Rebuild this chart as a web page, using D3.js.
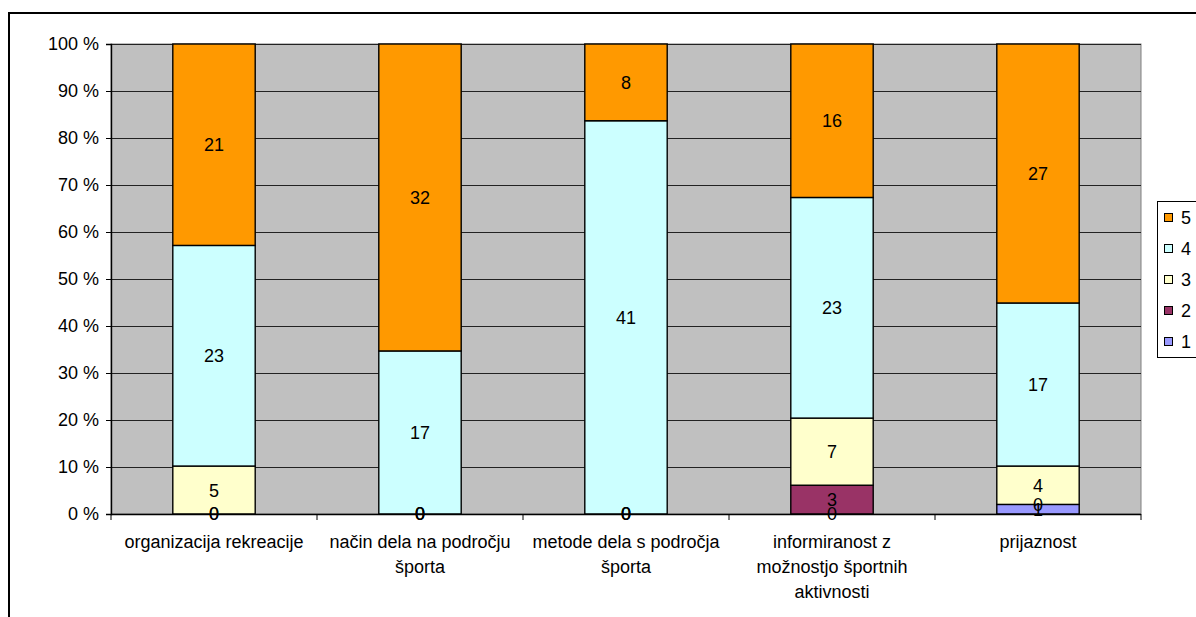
<!DOCTYPE html>
<html>
<head>
<meta charset="utf-8">
<script src="https://cdn.jsdelivr.net/npm/d3@7"></script>
<style>
  body { margin: 0; background: #fff; }
  svg { display: block; font-family: "Liberation Sans", Arial, sans-serif; }
</style>
</head>
<body>
<svg id="chart" width="1196" height="617"></svg>
<script>
// Survey categories (line breaks as shown under the axis)
const categories = [
  "organizacija rekreacije",
  "način dela na področju\nšporta",
  "metode dela s področja\nšporta",
  "informiranost z\nmožnostjo športnih\naktivnosti",
  "prijaznost"
];
// Ratings 1..5, counts per category
const series1 = [0, 0, 0, 0, 1];
const series2 = [0, 0, 0, 3, 0];
const series3 = [5, 0, 0, 7, 4];
const series4 = [23, 17, 41, 23, 17];
const series5 = [21, 32, 8, 16, 27];
const seriesNames = ["1", "2", "3", "4", "5"];
const seriesColors = ["#9999FF", "#993366", "#FFFFCC", "#CCFFFF", "#FF9900"];
const yTicks = [0, 10, 20, 30, 40, 50, 60, 70, 80, 90, 100];

const FONT = 18;
const allSeries = [series1, series2, series3, series4, series5];
const rows = categories.map((c, i) => {
  const r = { cat: c };
  seriesNames.forEach((s, k) => r[s] = allSeries[k][i]);
  return r;
});

const svg = d3.select("#chart");
const plot = { left: 111, right: 1141, top: 44, bottom: 514 };

// outer chart frame (runs past the page edge on the right and bottom)
svg.append("rect").attr("x", 9).attr("y", 13).attr("width", 1200).attr("height", 620)
  .attr("fill", "none").attr("stroke", "#000").attr("stroke-width", 2);

const x = d3.scaleBand().domain(categories).range([plot.left, plot.right]).paddingInner(0.6).paddingOuter(0.3);
const xOuter = d3.scaleBand().domain(categories).range([plot.left, plot.right]);
const y = d3.scaleLinear().domain([0, 100]).range([plot.bottom, plot.top]);

// plot background
svg.append("rect").attr("x", plot.left).attr("y", plot.top)
  .attr("width", plot.right - plot.left).attr("height", plot.bottom - plot.top)
  .attr("fill", "#C0C0C0").attr("stroke", "#808080").attr("stroke-width", 1);

// gridlines
svg.append("g").selectAll("line").data(yTicks.slice(1)).join("line")
  .attr("x1", plot.left).attr("x2", plot.right)
  .attr("y1", d => Math.round(y(d)) + 0.5).attr("y2", d => Math.round(y(d)) + 0.5)
  .attr("stroke", "#222").attr("stroke-width", 1);

// stacked percentages
const stack = d3.stack().keys(seriesNames).offset(d3.stackOffsetExpand);
const layers = stack(rows);

const gBars = svg.append("g");
layers.forEach((layer, k) => {
  gBars.append("g").selectAll("rect").data(layer).join("rect")
    .attr("x", d => x(d.data.cat))
    .attr("width", x.bandwidth())
    .attr("y", d => y(d[1] * 100))
    .attr("height", d => y(d[0] * 100) - y(d[1] * 100))
    .attr("fill", seriesColors[k])
    .attr("stroke", "#000").attr("stroke-width", 1.4)
    .attr("display", d => (d[1] - d[0]) > 0 ? null : "none");
});

// value labels
const gLabels = svg.append("g").attr("font-size", FONT).attr("fill", "#000").attr("text-anchor", "middle");
layers.forEach((layer, k) => {
  gLabels.append("g").selectAll("text").data(layer).join("text")
    .attr("x", d => x(d.data.cat) + x.bandwidth() / 2)
    .attr("y", d => y((d[0] + d[1]) / 2 * 100))
    .attr("dy", "0.36em")
    .text(d => d.data[layer.key]);
});

// y axis
const yAxis = svg.append("g").attr("transform", `translate(${plot.left},0)`)
  .call(d3.axisLeft(y).tickValues(yTicks).tickSize(5).tickPadding(7).tickFormat(d => d + " %"));
yAxis.select(".domain").attr("stroke", "#000").attr("stroke-width", 1.4);
yAxis.selectAll(".tick line").attr("stroke", "#000");
yAxis.selectAll(".tick text").attr("font-size", FONT).attr("fill", "#000")
  .attr("font-family", "'Liberation Sans', Arial, sans-serif");

// x axis baseline and boundary ticks
svg.append("line").attr("x1", plot.left).attr("x2", plot.right)
  .attr("y1", plot.bottom + 0.5).attr("y2", plot.bottom + 0.5)
  .attr("stroke", "#000").attr("stroke-width", 1.5);
const bounds = categories.map(c => xOuter(c)).concat([plot.right]);
svg.append("g").selectAll("line").data(bounds).join("line")
  .attr("x1", d => d).attr("x2", d => d)
  .attr("y1", plot.bottom).attr("y2", plot.bottom + 6)
  .attr("stroke", "#000").attr("stroke-width", 1);

// category labels
const gCat = svg.append("g").attr("font-size", FONT).attr("text-anchor", "middle").attr("fill", "#000");
categories.forEach(c => {
  const cx = xOuter(c) + xOuter.bandwidth() / 2;
  const t = gCat.append("text").attr("x", cx).attr("y", 548);
  c.split("\n").forEach((line, i) => {
    t.append("tspan").attr("x", cx).attr("dy", i === 0 ? 0 : 25).text(line);
  });
});

// legend (5 on top)
const legend = svg.append("g");
legend.append("rect").attr("x", 1157.5).attr("y", 201.5).attr("width", 42).attr("height", 156)
  .attr("fill", "#fff").attr("stroke", "#000").attr("stroke-width", 1);
const legItems = seriesNames.map((s, k) => ({ name: s, color: seriesColors[k] })).reverse();
const li = legend.selectAll("g").data(legItems).join("g")
  .attr("transform", (d, i) => `translate(1164, ${218 + i * 31})`);
li.append("rect").attr("x", 0.5).attr("y", -4.5).attr("width", 8).attr("height", 8)
  .attr("fill", d => d.color).attr("stroke", "#000").attr("stroke-width", 1);
li.append("text").attr("x", 17).attr("y", 0).attr("dy", "0.36em")
  .attr("font-size", FONT).text(d => d.name);
</script>
</body>
</html>
